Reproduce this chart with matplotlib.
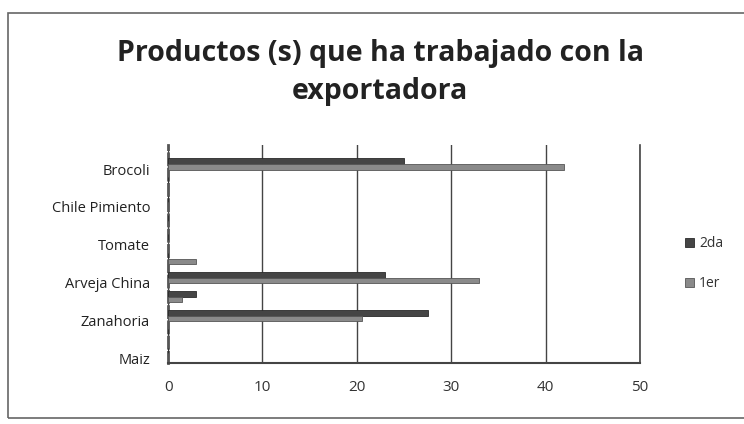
import numpy as np
import matplotlib.pyplot as plt
from matplotlib.patches import Rectangle

# categories, top to bottom (Excel hides every other label)
categories = ["Brocoli", "", "Chile Pimiento", "", "Tomate", "",
              "Arveja China", "", "Zanahoria", "", "Maiz"]
serie_2da = [25, 0, 0, 0, 0, 0, 23, 3, 27.5, 0, 0]
serie_1er = [42, 0, 0, 0, 0, 3, 33, 1.5, 20.5, 0, 0]
xticks = [0, 10, 20, 30, 40, 50]

plt.rcParams['font.family'] = ['Open Sans', 'DejaVu Sans']

fig = plt.figure(figsize=(7.44, 4.24), dpi=100)
ax = fig.add_axes([0.226, 0.144, 0.634, 0.514])

y = np.arange(len(categories))
h = 0.3
ax.barh(y - h/2, serie_2da, height=h, color="#454545", edgecolor="#2a2a2a", linewidth=0.6, label="2da", zorder=3)
ax.barh(y + h/2, serie_1er, height=h, color="#8a8a8a", edgecolor="#555555", linewidth=0.6, label="1er", zorder=3)

ax.set_xlim(0, 50)
ax.set_ylim(10.5, -1)
ax.set_xticks(xticks)
ax.set_xticklabels([str(t) for t in xticks], fontsize=11, color="#333333")
lab = [i for i, c in enumerate(categories) if c]
ax.set_yticks([i + 0.27 for i in lab])
ax.set_yticklabels([categories[i] for i in lab], fontsize=10.5, color="#222222")
ax.tick_params(length=0, pad=12)
ax.tick_params(axis='y', pad=13)
ax.grid(axis='x', color="#444444", linewidth=1.0, zorder=0)
ax.axvline(xticks[-1], color="#444444", linewidth=1.2, clip_on=False, zorder=0)
for s in ["top", "right"]:
    ax.spines[s].set_visible(False)
ax.spines["left"].set_color("#555555")
ax.spines["left"].set_linewidth(2)
ax.spines["left"].set_linestyle((0, (4, 1.5)))
ax.spines["bottom"].set_color("#444444")
ax.spines["bottom"].set_linewidth(1.5)

fig.text(0.511, 0.874, "Productos (s) que ha trabajado con la", ha="center", va="center",
         fontsize=20.5, fontweight="bold", color="#222222")
fig.text(0.511, 0.785, "exportadora", ha="center", va="center",
         fontsize=20.5, fontweight="bold", color="#222222")

ax.legend(loc="center left", bbox_to_anchor=(1.07, 0.455), frameon=False, fontsize=10,
          handlelength=0.6, handleheight=0.6, handletextpad=0.4, labelspacing=1.8,
          labelcolor="#333333")

fig.patches.append(Rectangle((0.011, 0.014), 1.2, 0.955, transform=fig.transFigure,
                             fill=False, edgecolor="#666666", linewidth=1.2))

fig.savefig("out.png", dpi=100)
